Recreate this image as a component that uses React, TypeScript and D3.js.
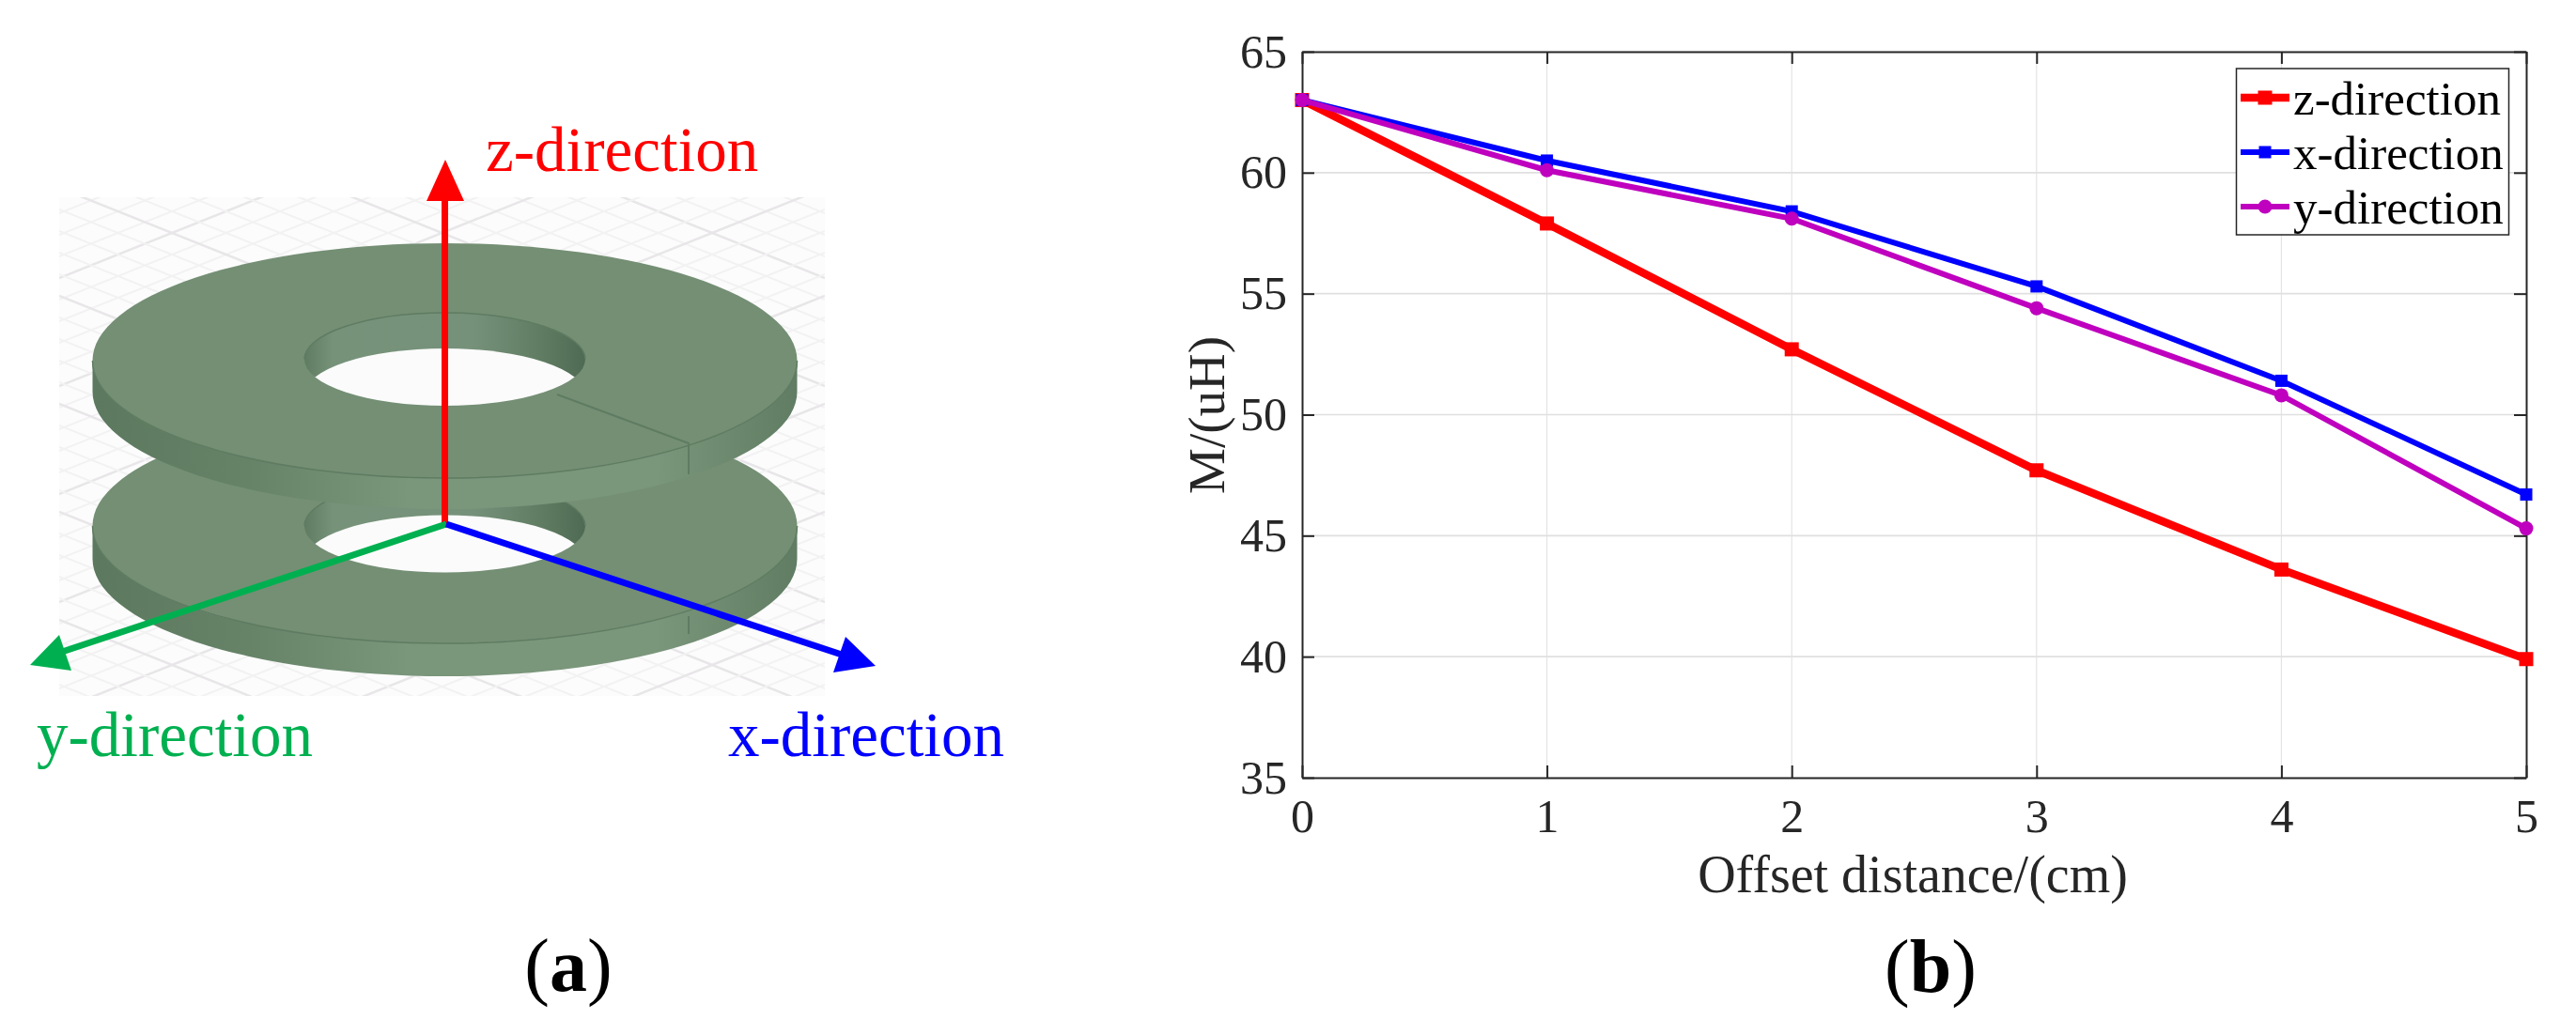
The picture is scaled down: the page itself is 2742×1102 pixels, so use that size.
import React, { useEffect, useRef } from 'react';
import * as d3 from 'd3';

const offsets = [0, 1, 2, 3, 4, 5];
const zDirection = [63, 57.9, 52.7, 47.7, 43.6, 39.9];
const xDirection = [63, 60.5, 58.4, 55.3, 51.4, 46.7];
const yDirection = [63, 60.1, 58.1, 54.4, 50.8, 45.3];
const yTicks = [35, 40, 45, 50, 55, 60, 65];
const seriesNames = ['z-direction', 'x-direction', 'y-direction'];

const SERIF = '"Liberation Serif", serif';
const INK = '#262626';
const FACE = '#748f74';
const EDGE = '#5f7c62';

const series = [
  { name: seriesNames[0], values: zDirection, color: '#ff0000', width: 8.5, marker: 'square', size: 15 },
  { name: seriesNames[1], values: xDirection, color: '#0000ff', width: 6, marker: 'square', size: 13 },
  { name: seriesNames[2], values: yDirection, color: '#bf00bf', width: 6, marker: 'circle', size: 15 },
];

// faint isometric floor behind the discs
const FloorGrid = () => {
  const x0 = 63, x1 = 878, y0 = 210, y1 = 741;
  const slope = 0.4;
  const span = x1 - x0;
  const lines = d3.range(-700, 1300, 23);
  return (
    <g clipPath="url(#floor-clip)" fill="none">
      <rect x={x0} y={y0} width={span} height={y1 - y0} fill="#fcfcfc" />
      {lines.map((c, i) => (
        <g key={c} stroke={i % 5 === 0 ? '#e8e6e8' : '#f3f2f3'} strokeWidth={i % 5 === 0 ? 2.5 : 2}>
          <line x1={x0} y1={y0 + c} x2={x1} y2={y0 + c + span * slope} />
          <line x1={x0} y1={y0 + c + span * slope} x2={x1} y2={y0 + c} />
        </g>
      ))}
    </g>
  );
};

const Disc = ({ id, cy, holeCy, thick }: { id: string; cy: number; holeCy: number; thick: number }) => {
  const cx = 473.5, rx = 375, ry = 125, hx = 149.5, hy = 49.5;
  const side = `M${cx - rx},${cy}A${rx},${ry} 0 0 0 ${cx + rx},${cy}L${cx + rx},${cy + thick}A${rx},${ry} 0 0 1 ${cx - rx},${cy + thick}Z`;
  const frontEdge = `M${cx - rx},${cy}A${rx},${ry} 0 0 0 ${cx + rx},${cy}`;
  return (
    <g>
      <path d={side} fill="url(#side-shade)" />
      <ellipse cx={cx} cy={cy} rx={rx} ry={ry} fill={FACE} />
      <path d={frontEdge} fill="none" stroke={EDGE} strokeWidth={1.5} />
      <clipPath id={id}>
        <ellipse cx={cx} cy={holeCy} rx={hx} ry={hy} />
      </clipPath>
      <g clipPath={`url(#${id})`}>
        <rect x={cx - hx} y={holeCy - hy} width={hx * 2} height={hy * 2} fill="url(#wall-shade)" />
        <ellipse cx={cx} cy={holeCy + 38} rx={hx} ry={hy} fill="#fbfbfb" />
      </g>
      <path
        d={`M${cx - hx},${holeCy}A${hx},${hy} 0 0 1 ${cx + hx},${holeCy}`}
        fill="none"
        stroke={EDGE}
        strokeWidth={1.5}
      />
    </g>
  );
};

const Arrow = ({ head, tail, color, label }: { head: number[][]; tail: number[][]; color: string; label: string }) => (
  <g>
    <line x1={tail[0][0]} y1={tail[0][1]} x2={tail[1][0]} y2={tail[1][1]} stroke={color} strokeWidth={7} />
    <polygon points={head.map((p) => p.join(',')).join(' ')} fill={color} aria-label={label} />
  </g>
);

const App = () => {
  const chartRef = useRef<SVGGElement>(null);

  useEffect(() => {
    const g = d3.select(chartRef.current);
    g.selectAll('*').remove();

    const left = 1386, right = 2689, top = 55, bottom = 828;
    const x = d3.scaleLinear().domain([0, 5]).range([left, right]);
    const y = d3.scaleLinear().domain([35, 65]).range([bottom, top]);

    // grid
    g.append('g')
      .selectAll('line')
      .data(offsets.slice(1, -1))
      .enter()
      .append('line')
      .attr('x1', (d) => x(d))
      .attr('x2', (d) => x(d))
      .attr('y1', top)
      .attr('y2', bottom)
      .attr('stroke', '#e4e4e4')
      .attr('stroke-width', 1.2);
    g.append('g')
      .selectAll('line')
      .data(yTicks.slice(1, -1))
      .enter()
      .append('line')
      .attr('x1', left)
      .attr('x2', right)
      .attr('y1', (d) => y(d))
      .attr('y2', (d) => y(d))
      .attr('stroke', '#e0e0e0')
      .attr('stroke-width', 1.6);

    // axes, ticks point inward on all four sides
    const styleAxis = (sel: any) => {
      sel.selectAll('.domain').attr('stroke', INK).attr('stroke-width', 2);
      sel.selectAll('.tick line').attr('stroke', INK).attr('stroke-width', 2);
      sel.selectAll('text')
        .attr('font-family', SERIF)
        .attr('font-size', 50)
        .attr('fill', INK);
    };
    const axisBottom = d3.axisBottom(x).tickValues(offsets).tickFormat(d3.format('d')).tickSize(-13).tickSizeOuter(0).tickPadding(22);
    const axisTop = d3.axisTop(x).tickValues(offsets).tickFormat(() => '').tickSize(-13).tickSizeOuter(0);
    const axisLeft = d3.axisLeft(y).tickValues(yTicks).tickFormat(d3.format('d')).tickSize(-13).tickSizeOuter(0).tickPadding(16);
    const axisRight = d3.axisRight(y).tickValues(yTicks).tickFormat(() => '').tickSize(-13).tickSizeOuter(0);
    g.append('g').attr('transform', `translate(0,${bottom})`).call(axisBottom).call(styleAxis);
    g.append('g').attr('transform', `translate(0,${top})`).call(axisTop).call(styleAxis);
    g.append('g').attr('transform', `translate(${left},0)`).call(axisLeft).call(styleAxis);
    g.append('g').attr('transform', `translate(${right},0)`).call(axisRight).call(styleAxis);

    const line = d3.line<number>().x((_, i) => x(offsets[i])).y((d) => y(d));

    const drawMarker = (sel: any, s: any, px: number, py: number) => {
      if (s.marker === 'square') {
        sel.append('rect')
          .attr('x', px - s.size / 2)
          .attr('y', py - s.size / 2)
          .attr('width', s.size)
          .attr('height', s.size)
          .attr('fill', s.color);
      } else {
        sel.append('circle').attr('cx', px).attr('cy', py).attr('r', s.size / 2).attr('fill', s.color);
      }
    };

    series.forEach((s) => {
      g.append('path')
        .attr('d', line(s.values))
        .attr('fill', 'none')
        .attr('stroke', s.color)
        .attr('stroke-width', s.width);
      s.values.forEach((v, i) => drawMarker(g, s, x(offsets[i]), y(v)));
    });

    // legend
    const legendTop = 73;
    g.append('rect')
      .attr('x', 2380.5)
      .attr('y', legendTop)
      .attr('width', 290)
      .attr('height', 177)
      .attr('fill', '#fff')
      .attr('stroke', INK)
      .attr('stroke-width', 1.5);
    series.forEach((s, i) => {
      const ly = 104 + i * 58;
      g.append('line')
        .attr('x1', 2385)
        .attr('x2', 2437)
        .attr('y1', ly)
        .attr('y2', ly)
        .attr('stroke', s.color)
        .attr('stroke-width', s.width);
      drawMarker(g, s, 2411, ly);
      g.append('text')
        .attr('x', 2441)
        .attr('y', ly + 18)
        .attr('font-family', SERIF)
        .attr('font-size', 51)
        .attr('fill', '#000')
        .text(s.name);
    });

    g.append('text')
      .attr('x', 2036)
      .attr('y', 950)
      .attr('text-anchor', 'middle')
      .attr('font-family', SERIF)
      .attr('font-size', 56)
      .attr('fill', INK)
      .text('Offset distance/(cm)');
    g.append('text')
      .attr('transform', 'translate(1303,442) rotate(-90)')
      .attr('text-anchor', 'middle')
      .attr('font-family', SERIF)
      .attr('font-size', 55)
      .attr('fill', INK)
      .text('M/(uH)');
  }, []);

  return (
    <svg
      width={2742}
      height={1102}
      style={{ position: 'absolute', left: 0, top: 0, background: '#fff' }}
    >
      <defs>
        <clipPath id="floor-clip">
          <rect x={63} y={210} width={815} height={531} />
        </clipPath>
        <linearGradient id="side-shade" x1="0" x2="1" y1="0" y2="0">
          <stop offset="0" stopColor="#5c795f" />
          <stop offset="0.22" stopColor="#668368" />
          <stop offset="0.45" stopColor="#7a967b" />
          <stop offset="0.8" stopColor="#7a967b" />
          <stop offset="1" stopColor="#607d63" />
        </linearGradient>
        <linearGradient id="wall-shade" x1="0" x2="1" y1="0" y2="0">
          <stop offset="0" stopColor="#5f7c62" />
          <stop offset="0.1" stopColor="#76937a" />
          <stop offset="0.6" stopColor="#76917a" />
          <stop offset="0.85" stopColor="#5f7c62" />
          <stop offset="1" stopColor="#4f6a53" />
        </linearGradient>
      </defs>

      <FloorGrid />
      <Disc id="hole-lower" cy={560} holeCy={560} thick={35} />
      <Disc id="hole-upper" cy={384} holeCy={382.5} thick={33} />

      {/* seams on the rings */}
      <path d="M593,420L733,472L733,505" fill="none" stroke={EDGE} strokeWidth={2} />
      <path d="M733,656L733,675" fill="none" stroke={EDGE} strokeWidth={2} />

      <Arrow
        tail={[[473.5, 560], [473.5, 212]]}
        head={[[474, 170], [454, 214], [494, 214]]}
        color="#ff0000"
        label="z axis"
      />
      <Arrow
        tail={[[475, 558], [66, 694]]}
        head={[[32, 708], [63, 676], [76, 714]]}
        color="#00b050"
        label="y axis"
      />
      <Arrow
        tail={[[475, 558], [896, 697]]}
        head={[[932, 709], [900, 678], [887, 716]]}
        color="#0000ff"
        label="x axis"
      />

      <g fontFamily={SERIF} fontSize={67}>
        <text x={517} y={182} fill="#ff0000">z-direction</text>
        <text x={39} y={805} fill="#00b050">y-direction</text>
        <text x={775} y={805} fill="#0000ff">x-direction</text>
      </g>
      <g fontFamily={SERIF} fontSize={80} fill="#000" textAnchor="middle">
        <text x={605} y={1055}>(<tspan fontWeight="bold">a</tspan>)</text>
        <text x={2055} y={1056}>(<tspan fontWeight="bold">b</tspan>)</text>
      </g>

      <g ref={chartRef} />
    </svg>
  );
};

export default App;
